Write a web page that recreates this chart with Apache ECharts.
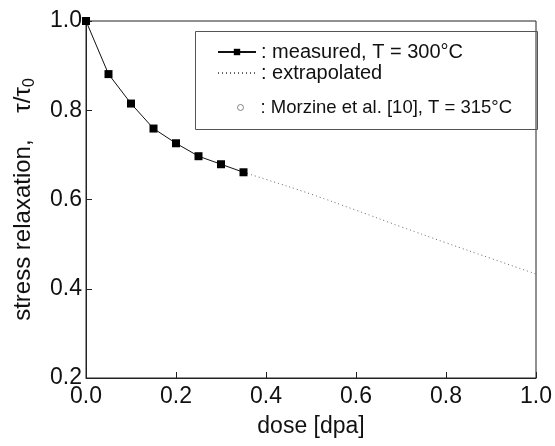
<!DOCTYPE html>
<html>
<head>
<meta charset="utf-8">
<script src="https://cdn.jsdelivr.net/npm/echarts@6/dist/echarts.min.js"></script>
<style>
html,body{margin:0;padding:0;background:#fff;}
#c{width:555px;height:446px;}
</style>
</head>
<body>
<div id="c"></div>
<script>
// Data
var measuredDose = [0, 0.05, 0.10, 0.15, 0.20, 0.25, 0.30, 0.35];
var measuredRatio = [1.0, 0.881, 0.815, 0.759, 0.726, 0.697, 0.679, 0.661];
var extrapDose = [0.35, 0.40, 0.50, 0.60, 0.70, 0.80, 0.90, 1.00];
var extrapRatio = [0.661, 0.645, 0.612, 0.576, 0.539, 0.503, 0.468, 0.433];
var morzineDose = [0.50];
var morzineRatio = [0.629];
var xTicks = [0.0, 0.2, 0.4, 0.6, 0.8, 1.0];
var yTicks = [0.2, 0.4, 0.6, 0.8, 1.0];
var seriesNames = ['measured, T = 300°C', 'extrapolated', 'Morzine et al. [10], T = 315°C'];

function zip(a, b) { return a.map(function (v, i) { return [v, b[i]]; }); }

var FONT = '"Liberation Sans", Arial, sans-serif';
var chart = echarts.init(document.getElementById('c'), null, {renderer: 'canvas'});

var legendCommon = {
  orient: 'vertical',
  left: 217,
  itemWidth: 38,
  itemHeight: 8,
  itemGap: 5,
  padding: 0,
  selectedMode: false,
  textStyle: {fontFamily: FONT, fontSize: 20, color: '#111'},
  formatter: function (n) { return ': ' + n; }
};

chart.setOption({
  animation: false,
  backgroundColor: '#fff',
  grid: {left: 86, right: 15, top: 21, bottom: 68, show: true, borderColor: '#222', borderWidth: 1},
  xAxis: {
    type: 'value', min: 0, max: 1, interval: 0.2,
    name: 'dose [dpa]', nameLocation: 'middle', nameGap: 37,
    nameTextStyle: {fontFamily: FONT, fontSize: 23, color: '#111'},
    axisLine: {show: true, lineStyle: {color: '#222', width: 1}},
    axisTick: {show: true, inside: true, length: 6, lineStyle: {color: '#222'}},
    axisLabel: {fontFamily: FONT, fontSize: 23, color: '#111', margin: 7,
      formatter: function (v) { return v.toFixed(1); }},
    splitLine: {show: false}
  },
  yAxis: {
    type: 'value', min: 0.2, max: 1.0, interval: 0.2,
    name: '{a|stress relaxation,}    {a|τ/τ}{s|0}',
    nameLocation: 'middle', nameGap: 48, nameRotate: 90,
    nameTextStyle: {
      fontFamily: FONT, fontSize: 24,
      rich: {
        a: {fontFamily: FONT, fontSize: 24, color: '#111'},
        s: {fontFamily: FONT, fontSize: 16, color: '#111', padding: [14, 0, 0, 0]}
      }
    },
    axisLine: {show: true, lineStyle: {color: '#222', width: 1}},
    axisTick: {show: true, inside: true, length: 6, lineStyle: {color: '#222'}},
    axisLabel: {fontFamily: FONT, fontSize: 23, color: '#111', margin: 4,
      formatter: function (v) { return v.toFixed(1); }},
    splitLine: {show: false}
  },
  legend: [
    Object.assign({}, legendCommon, {top: 42, data: [seriesNames[0]]}),
    Object.assign({}, legendCommon, {top: 63, data: [{name: seriesNames[1], itemStyle: {opacity: 0}}]}),
    Object.assign({}, legendCommon, {
      top: 98, left: 237, itemWidth: 6, itemHeight: 6,
      textStyle: {fontFamily: FONT, fontSize: 18.5, color: '#111', padding: [0, 0, 0, 12]},
      data: [{
        name: seriesNames[2], icon: 'circle',
        itemStyle: {color: '#fff', borderColor: '#666', borderWidth: 1}
      }]
    })
  ],
  graphic: [{
    type: 'rect', left: 193, top: 29, z: 0, silent: true,
    shape: {width: 342, height: 98},
    style: {fill: 'none', stroke: '#555', lineWidth: 1}
  }],
  series: [
    {
      name: seriesNames[0], type: 'line', data: zip(measuredDose, measuredRatio),
      symbol: 'rect', symbolSize: 8, z: 5,
      itemStyle: {color: '#000'},
      lineStyle: {color: '#111', width: 1}
    },
    {
      name: seriesNames[1], type: 'line', data: zip(extrapDose, extrapRatio),
      smooth: true, symbol: 'none',
      itemStyle: {color: '#666'},
      lineStyle: {color: '#666', width: 1, type: [1, 3]}
    },
    {
      name: seriesNames[2], type: 'scatter', data: zip(morzineDose, morzineRatio),
      symbol: 'emptyCircle', symbolSize: 5,
      itemStyle: {color: '#fff', borderColor: '#666', borderWidth: 1}
    }
  ]
});
</script>
</body>
</html>
